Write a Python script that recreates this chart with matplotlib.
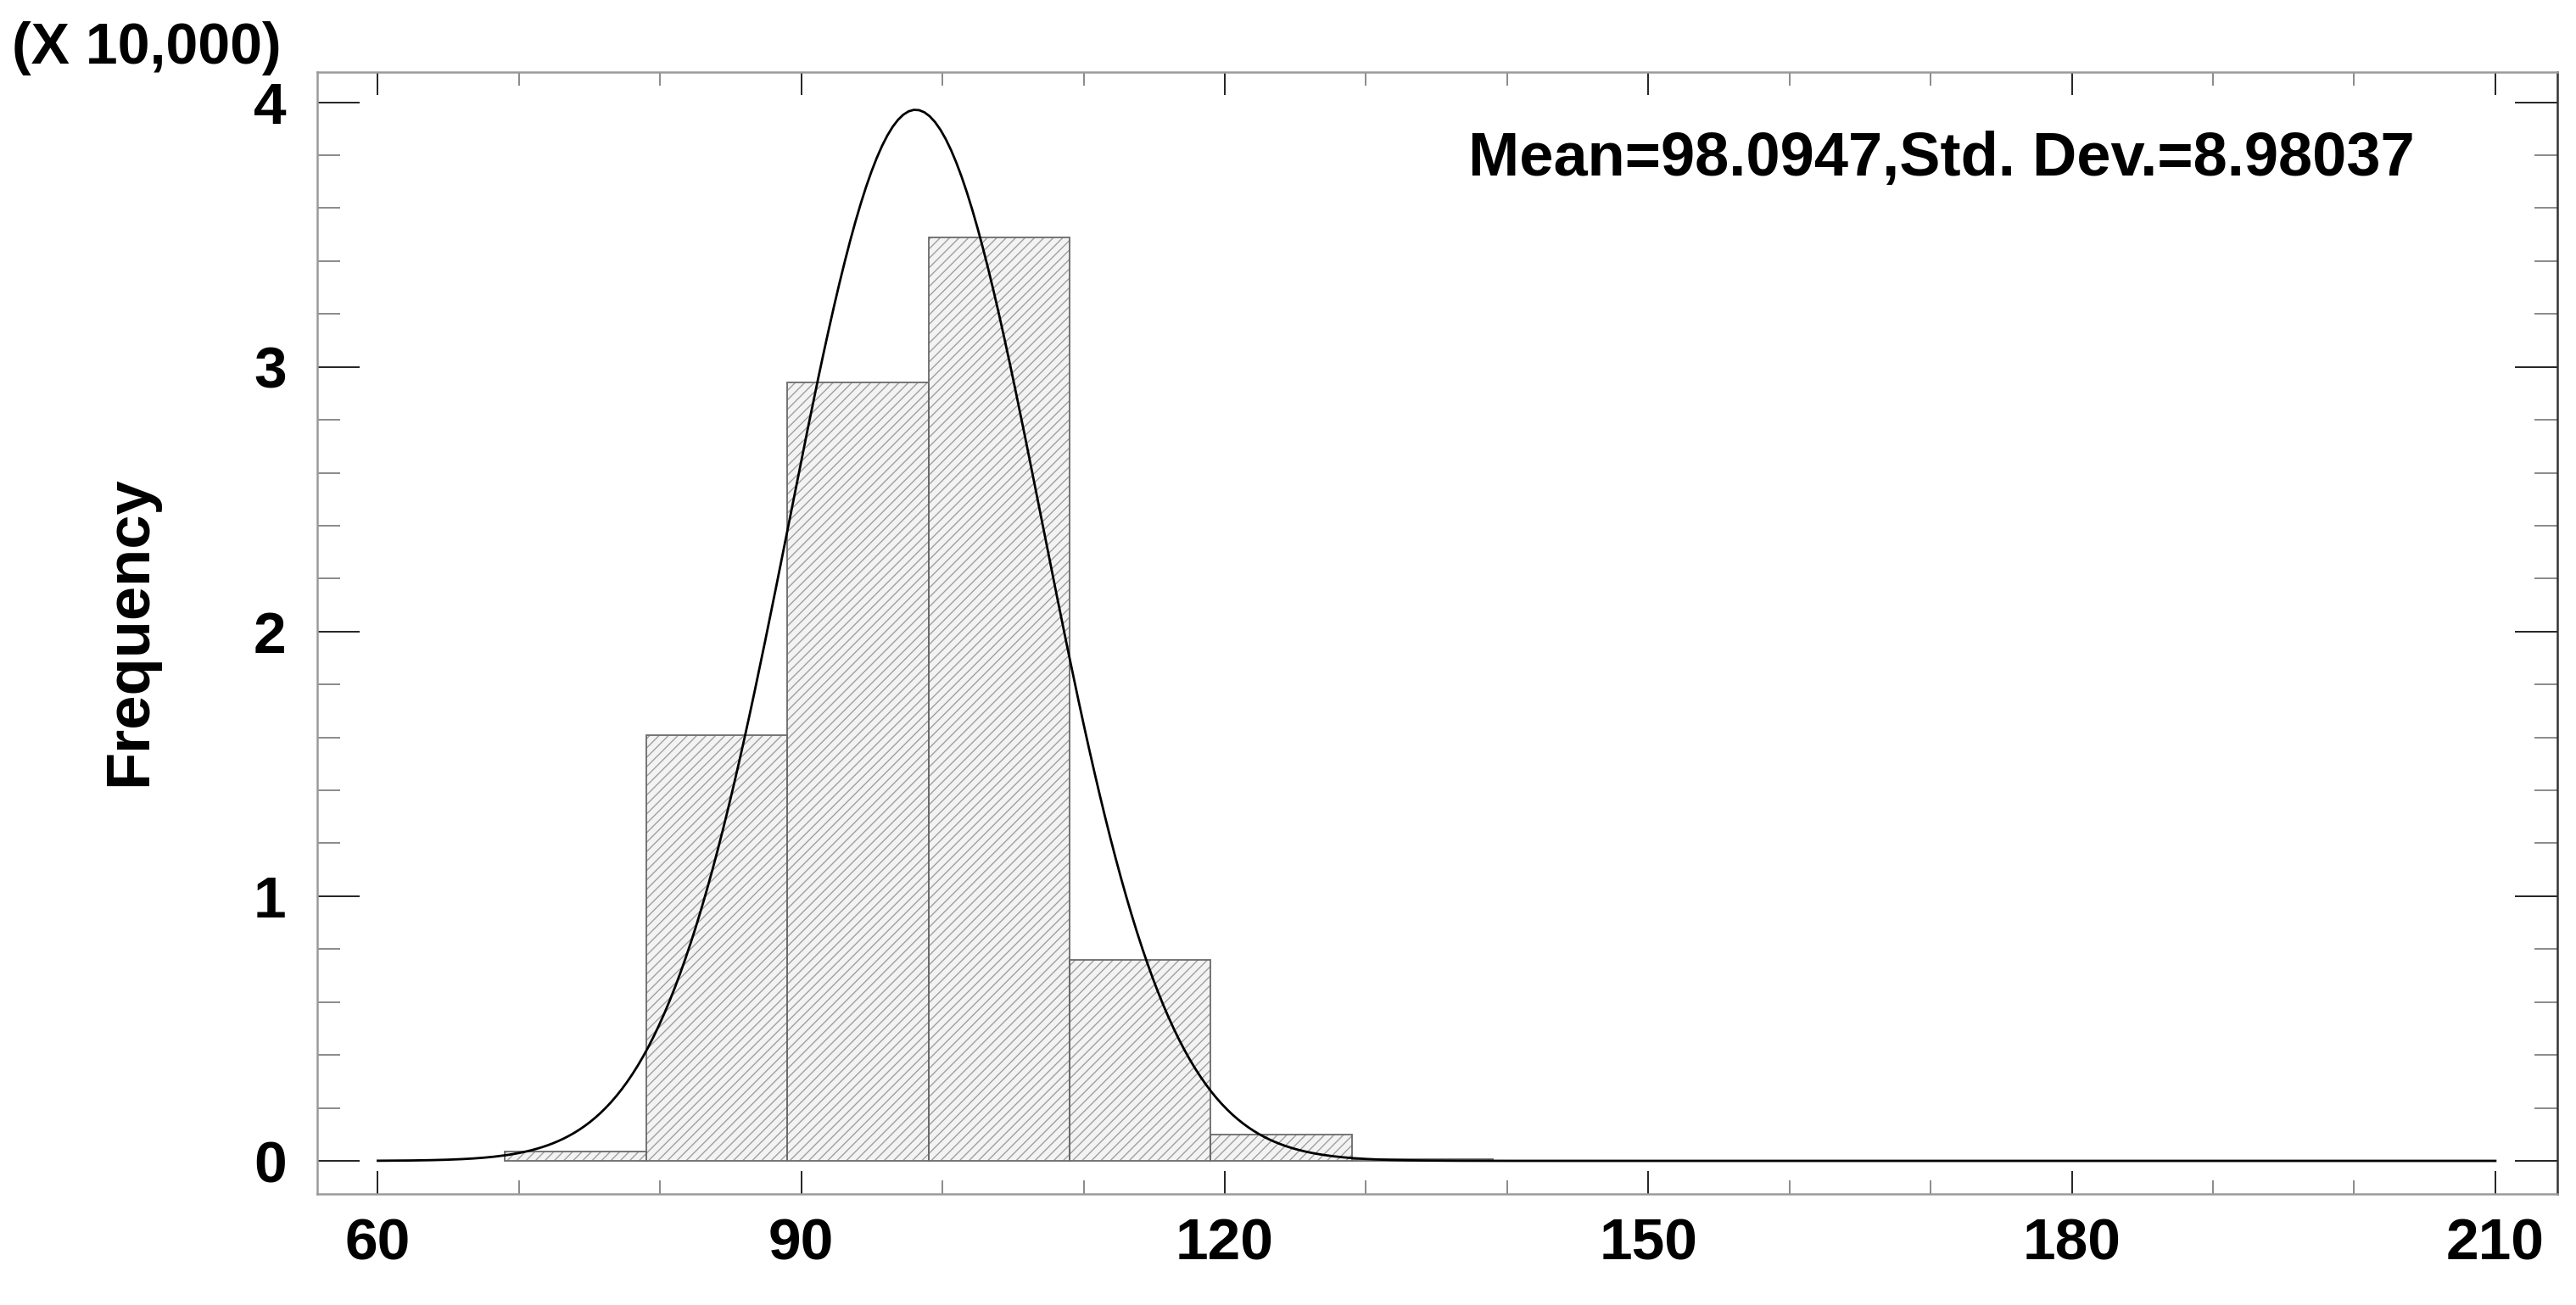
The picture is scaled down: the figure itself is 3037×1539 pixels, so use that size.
import matplotlib
matplotlib.use("Agg")
import matplotlib.pyplot as plt
import numpy as np
from matplotlib.ticker import FixedLocator, MultipleLocator

# histogram, heights in units of 10,000
binEdges = [69, 79, 89, 99, 109, 119, 129, 139]
binHeights = [0.034, 1.61, 2.94, 3.49, 0.76, 0.10, 0.006]
meanValue = 98.0947
stdDev = 8.98037
xTicks = [60, 90, 120, 150, 180, 210]
yTicks = [0, 1, 2, 3, 4]

plt.rcParams["font.family"] = ["Liberation Sans", "DejaVu Sans"]
plt.rcParams["font.weight"] = "bold"
plt.rcParams["hatch.linewidth"] = 1.0

fig = plt.figure(figsize=(30.37, 15.39), dpi=100)
ax = fig.add_axes([0.1231, 0.0851, 0.9928 - 0.1231, 0.9448 - 0.0851])

widths = np.diff(binEdges)
ax.bar(binEdges[:-1], binHeights, width=widths, align="edge", color="#f3f3f3",
       edgecolor="#a0a0a0", hatch="///", linewidth=0)
ax.bar(binEdges[:-1], binHeights, width=widths, align="edge", fill=False,
       edgecolor="#6a6a6a", linewidth=1.3)

# fitted normal curve, scaled to the histogram area
total = sum(binHeights)
xs = np.linspace(xTicks[0], xTicks[-1], 400)
ys = total * widths[0] / (stdDev * np.sqrt(2 * np.pi)) * np.exp(-0.5 * ((xs - meanValue) / stdDev) ** 2)
ax.plot(xs, ys, color="black", lw=2.0)

ax.set_xlim(55.7, 214.4)
ax.set_ylim(-0.125, 4.114)
ax.xaxis.set_major_locator(FixedLocator(xTicks))
ax.xaxis.set_minor_locator(MultipleLocator(10))
ax.yaxis.set_major_locator(FixedLocator(yTicks))
ax.yaxis.set_minor_locator(MultipleLocator(0.2))

ax.tick_params(which="both", direction="in", top=True, right=True)
ax.tick_params(axis="x", which="major", length=19.5, width=1.4, color="#222222", labelsize=50, pad=20)
ax.tick_params(axis="x", which="minor", length=11.5, width=1.2, color="#777777")
ax.tick_params(axis="y", which="major", length=36, width=1.4, color="#222222", labelsize=50, pad=26)
ax.tick_params(axis="y", which="minor", length=19.5, width=1.2, color="#777777")

for side in ["left", "top", "bottom"]:
    ax.spines[side].set_color("#9a9a9a")
    ax.spines[side].set_linewidth(1.8)
ax.spines["right"].set_color("#333333")
ax.spines["right"].set_linewidth(1.8)

ax.text(0.514, 0.908, f"Mean={meanValue},Std. Dev.={stdDev}", transform=ax.transAxes,
        fontsize=52, fontweight="bold", va="baseline")
fig.text(0.0045, 0.9513, "(X 10,000)", fontsize=49, fontweight="bold", va="baseline")
fig.text(0.0504, 0.5166, "Frequency", rotation=90, fontsize=52, fontweight="bold",
         ha="center", va="center")

fig.savefig("out.png", dpi=100)
